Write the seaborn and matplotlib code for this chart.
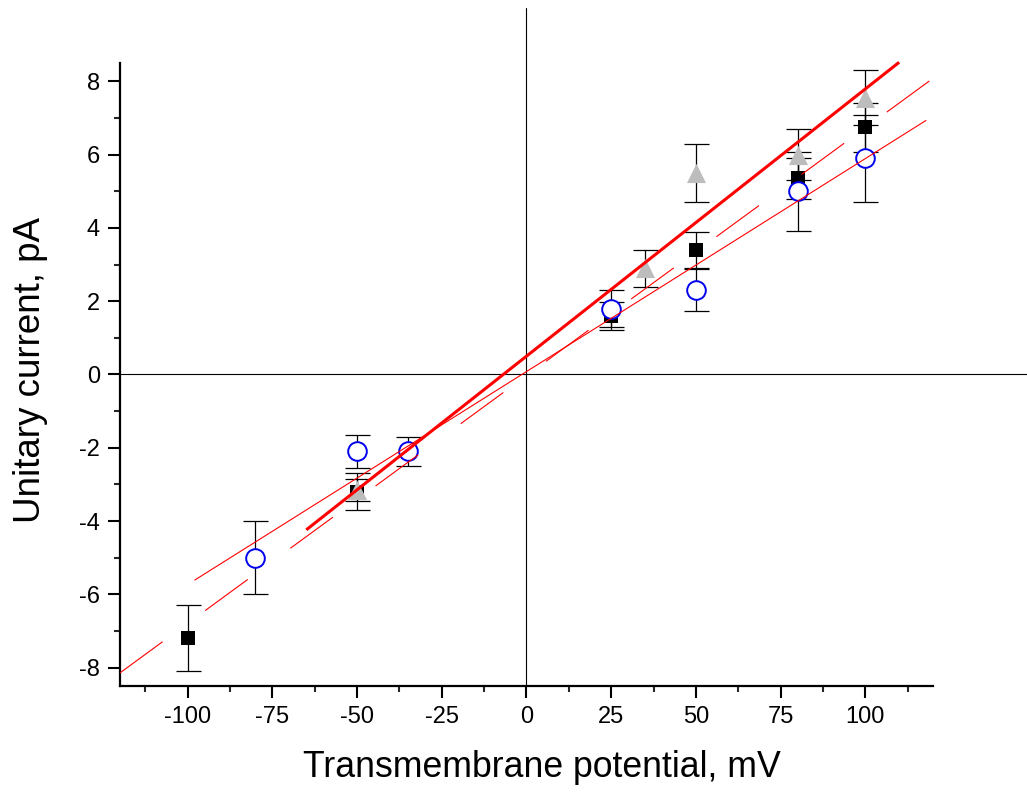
import matplotlib
matplotlib.use("Agg")
import matplotlib.pyplot as plt
import seaborn as sns
import pandas as pd

# measured points (x in mV, current in pA, error = half-length of bar)
sq_x = [-100, -50, 25, 50, 80, 100]
sq_y = [-7.2, -3.2, 1.6, 3.4, 5.35, 6.74]
sq_err = [0.9, 0.5, 0.38, 0.5, 0.55, 0.67]

tri_x = [-50, 35, 50, 80, 100]
tri_y = [-3.15, 2.9, 5.5, 6.0, 7.55]
tri_err = [0.3, 0.5, 0.8, 0.7, 0.75]

circ_x = [-80, -50, -35, 25, 50, 80, 100]
circ_y = [-5.0, -2.1, -2.1, 1.8, 2.3, 5.0, 5.9]
circ_err = [1.0, 0.45, 0.4, 0.5, 0.58, 1.08, 1.18]

# linear fits: x-range, slope, intercept
fit_thick = dict(x=[-65, 110], slope=0.0729, icpt=0.50)
fit_thin = dict(x=[-98, 118], slope=0.0581, icpt=0.08)
fit_dash = dict(x=[-120, 120], slope=0.0676, icpt=-0.03)

x_ticks = [-100, -75, -50, -25, 0, 25, 50, 75, 100]
y_ticks = [-8, -6, -4, -2, 0, 2, 4, 6, 8]

sns.set_style("ticks")
plt.rcParams["font.family"] = ["Liberation Sans", "DejaVu Sans"]
plt.rcParams["lines.scale_dashes"] = False
plt.rcParams["text.color"] = "black"
plt.rcParams["axes.labelcolor"] = "black"

fig = plt.figure(figsize=(10.27, 7.93), dpi=100)
ax = fig.add_axes([0.1168, 0.1349, 0.7917, 0.7857])

# zero axes lines reaching outside the frame
ax.plot([0, 0], [-8.5, 10.0], color="black", lw=0.8, clip_on=False, zorder=1)
ax.plot([-120, 148], [0, 0], color="black", lw=0.8, clip_on=False, zorder=1)

ebkw = dict(fmt="none", ecolor="black", elinewidth=0.9, capsize=9, capthick=0.9, zorder=2)
ax.errorbar(sq_x, sq_y, yerr=sq_err, **ebkw)
ax.errorbar(tri_x, tri_y, yerr=tri_err, **ebkw)
ax.errorbar(circ_x, circ_y, yerr=circ_err, **ebkw)

sq = pd.DataFrame({"x": sq_x, "y": sq_y})
tri = pd.DataFrame({"x": tri_x, "y": tri_y})
circ = pd.DataFrame({"x": circ_x, "y": circ_y})
sns.scatterplot(data=sq, x="x", y="y", marker="s", s=100, color="black",
                edgecolor="black", linewidth=0, ax=ax, zorder=3)
sns.scatterplot(data=tri, x="x", y="y", marker="^", s=190, color="#bdbdbd",
                edgecolor="#bdbdbd", linewidth=0, ax=ax, zorder=4)
sns.scatterplot(data=circ, x="x", y="y", marker="o", s=180, facecolor="white",
                edgecolor="#0000ee", linewidth=1.4, ax=ax, zorder=5)

for f, lw, ls in [(fit_thick, 2.2, "-"), (fit_thin, 0.8, "-"), (fit_dash, 0.8, (0, (38, 38)))]:
    xs = f["x"]
    ys = [f["slope"] * v + f["icpt"] for v in xs]
    ax.plot(xs, ys, color="#ff0000", lw=lw, linestyle=ls, zorder=6,
            solid_capstyle="butt", clip_on=False)

sns.despine(ax=ax)
for s in ["left", "bottom"]:
    ax.spines[s].set_linewidth(1.6)
    ax.spines[s].set_color("black")

ax.set_xticks(x_ticks)
ax.set_yticks(y_ticks)
ax.set_xticks([v + 12.5 for v in x_ticks[:-1]] + [-112.5, 112.5], minor=True)
ax.set_yticks([v + 1 for v in y_ticks[:-1]], minor=True)
ax.set_xticklabels([str(v) for v in x_ticks])
ax.set_yticklabels([str(v) for v in y_ticks])
ax.tick_params(which="major", direction="out", length=8.5, width=1.5, labelsize=17, pad=6, colors="black")
ax.tick_params(which="minor", direction="out", length=4.5, width=1.5)

ax.set_xlim(-120, 120)
ax.set_ylim(-8.5, 8.5)

ax.set_xlabel("Transmembrane potential, mV", fontsize=25.7)
ax.set_ylabel("Unitary current, pA", fontsize=26.5)
ax.xaxis.set_label_coords(0.519, -0.103)
ax.yaxis.set_label_coords(-0.088, 0.507)

fig.savefig("out.png", dpi=100)
